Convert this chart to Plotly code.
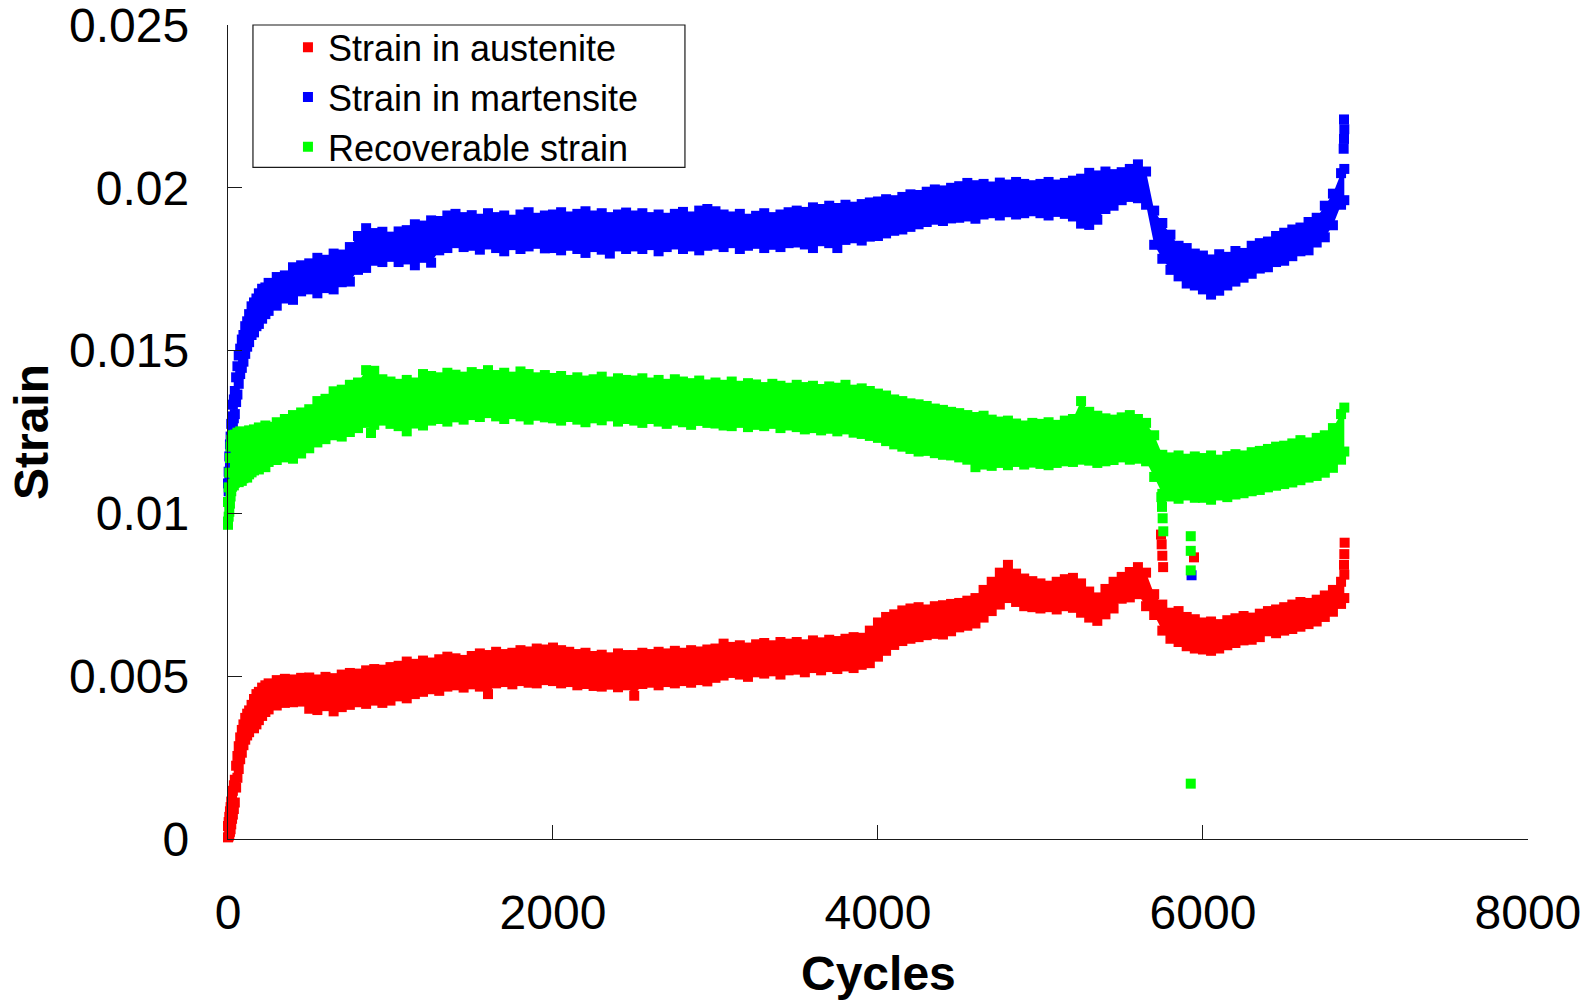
import plotly.graph_objects as go

# Sampled cycle numbers (denser logging during the first cycles)
cycles = [
    0, 4, 8, 12, 16, 20, 25, 30, 36, 42,
    50, 58, 66, 75, 85, 95, 106, 118, 130, 145,
    160, 175, 190, 210, 230, 250, 300, 350, 400, 450,
    500, 550, 600, 650, 700, 750, 800, 850, 900, 950,
    1000, 1050, 1100, 1150, 1200, 1250, 1300, 1350, 1400, 1450,
    1500, 1550, 1600, 1650, 1700, 1750, 1800, 1850, 1900, 1950,
    2000, 2050, 2100, 2150, 2200, 2250, 2300, 2350, 2400, 2450,
    2500, 2550, 2600, 2650, 2700, 2750, 2800, 2850, 2900, 2950,
    3000, 3050, 3100, 3150, 3200, 3250, 3300, 3350, 3400, 3450,
    3500, 3550, 3600, 3650, 3700, 3750, 3800, 3850, 3900, 3950,
    4000, 4050, 4100, 4150, 4200, 4250, 4300, 4350, 4400, 4450,
    4500, 4550, 4600, 4650, 4700, 4750, 4800, 4850, 4900, 4950,
    5000, 5050, 5100, 5150, 5200, 5250, 5300, 5350, 5400, 5450,
    5500, 5550, 5600, 5650, 5700, 5750, 5800, 5850, 5900, 5950,
    6000, 6050, 6100, 6150, 6200, 6250, 6300, 6350, 6400, 6450,
    6500, 6550, 6600, 6650, 6700, 6750, 6800, 6850, 6870,
]

# Strain in austenite: upper / lower readings of the scatter band
austenite_hi = [
    0.00040, 0.00052, 0.00068, 0.00085, 0.00098, 0.00115, 0.00135, 0.00148, 0.00165, 0.00182,
    0.00225, 0.00255, 0.00285, 0.00312, 0.00335, 0.00352, 0.00372, 0.00385, 0.00395, 0.00412,
    0.00430, 0.00445, 0.00452, 0.00465, 0.00472, 0.00478, 0.00488, 0.00492, 0.00490, 0.00495,
    0.00496, 0.00490, 0.00498, 0.00494, 0.00505, 0.00510, 0.00508, 0.00518, 0.00522, 0.00520,
    0.00528, 0.00532, 0.00545, 0.00538, 0.00548, 0.00542, 0.00552, 0.00560, 0.00555, 0.00550,
    0.00562, 0.00570, 0.00565, 0.00575, 0.00568, 0.00572, 0.00580, 0.00576, 0.00585, 0.00582,
    0.00588, 0.00580, 0.00575, 0.00568, 0.00572, 0.00562, 0.00566, 0.00558, 0.00570, 0.00565,
    0.00565, 0.00572, 0.00568, 0.00575, 0.00570, 0.00578, 0.00572, 0.00580, 0.00576, 0.00582,
    0.00585, 0.00600, 0.00590, 0.00595, 0.00588, 0.00598, 0.00602, 0.00595, 0.00605, 0.00600,
    0.00605, 0.00598, 0.00610, 0.00604, 0.00612, 0.00608, 0.00615, 0.00620, 0.00618, 0.00640,
    0.00665, 0.00682, 0.00690, 0.00702, 0.00708, 0.00712, 0.00705, 0.00715, 0.00718, 0.00722,
    0.00725, 0.00732, 0.00740, 0.00765, 0.00790, 0.00818, 0.00842, 0.00815, 0.00800, 0.00792,
    0.00785, 0.00778, 0.00790, 0.00798, 0.00802, 0.00785, 0.00760, 0.00742, 0.00768, 0.00790,
    0.00805, 0.00820, 0.00835, 0.00818, 0.00752, 0.00720, 0.00695, 0.00700, 0.00682, 0.00675,
    0.00665, 0.00668, 0.00660, 0.00672, 0.00678, 0.00685, 0.00680, 0.00692, 0.00700, 0.00705,
    0.00712, 0.00720, 0.00728, 0.00725, 0.00735, 0.00748, 0.00765, 0.00790, 0.00812,
]
austenite_lo = [
    0.00005, 0.00008, 0.00012, 0.00022, 0.00030, 0.00045, 0.00062, 0.00075, 0.00092, 0.00112,
    0.00158, 0.00188, 0.00215, 0.00245, 0.00265, 0.00288, 0.00305, 0.00318, 0.00328, 0.00345,
    0.00340, 0.00352, 0.00365, 0.00378, 0.00390, 0.00398, 0.00410, 0.00418, 0.00420, 0.00422,
    0.00400, 0.00396, 0.00408, 0.00392, 0.00405, 0.00412, 0.00420, 0.00415, 0.00425, 0.00418,
    0.00425, 0.00438, 0.00432, 0.00445, 0.00452, 0.00460, 0.00455, 0.00468, 0.00472, 0.00465,
    0.00475, 0.00468, 0.00445, 0.00478, 0.00482, 0.00475, 0.00485, 0.00480, 0.00478, 0.00488,
    0.00485, 0.00478, 0.00482, 0.00472, 0.00476, 0.00470, 0.00468, 0.00474, 0.00466, 0.00472,
    0.00440, 0.00476, 0.00480, 0.00472, 0.00482, 0.00478, 0.00485, 0.00480, 0.00488, 0.00484,
    0.00495, 0.00502, 0.00510, 0.00505, 0.00498, 0.00512, 0.00508, 0.00515, 0.00505, 0.00518,
    0.00520, 0.00512, 0.00525, 0.00518, 0.00528, 0.00522, 0.00530, 0.00525, 0.00535, 0.00540,
    0.00560, 0.00578, 0.00596, 0.00608, 0.00615, 0.00620, 0.00626, 0.00630, 0.00628, 0.00638,
    0.00650, 0.00655, 0.00662, 0.00680, 0.00700, 0.00720, 0.00740, 0.00728, 0.00715, 0.00712,
    0.00708, 0.00712, 0.00705, 0.00715, 0.00710, 0.00695, 0.00680, 0.00670, 0.00690, 0.00708,
    0.00738, 0.00742, 0.00752, 0.00715, 0.00688, 0.00640, 0.00615, 0.00605, 0.00592, 0.00585,
    0.00582, 0.00578, 0.00585, 0.00595, 0.00602, 0.00610, 0.00612, 0.00620, 0.00638, 0.00632,
    0.00640, 0.00645, 0.00652, 0.00660, 0.00668, 0.00682, 0.00698, 0.00722, 0.00740,
]

# Strain in martensite
martensite_hi = [
    0.01092, 0.01128, 0.01175, 0.01212, 0.01236, 0.01275, 0.01298, 0.01334, 0.01350, 0.01376,
    0.01418, 0.01452, 0.01485, 0.01506, 0.01534, 0.01548, 0.01575, 0.01590, 0.01612, 0.01636,
    0.01648, 0.01660, 0.01676, 0.01690, 0.01694, 0.01708, 0.01726, 0.01731, 0.01756, 0.01762,
    0.01768, 0.01785, 0.01779, 0.01798, 0.01795, 0.01818, 0.01852, 0.01876, 0.01861, 0.01865,
    0.01850, 0.01866, 0.01870, 0.01888, 0.01884, 0.01900, 0.01898, 0.01915, 0.01920, 0.01910,
    0.01916, 0.01905, 0.01922, 0.01910, 0.01915, 0.01902, 0.01918, 0.01925, 0.01908, 0.01915,
    0.01918, 0.01925, 0.01912, 0.01920, 0.01928, 0.01915, 0.01922, 0.01910, 0.01918, 0.01924,
    0.01915, 0.01922, 0.01910, 0.01918, 0.01908, 0.01920, 0.01926, 0.01912, 0.01930, 0.01935,
    0.01928, 0.01918, 0.01912, 0.01920, 0.01905, 0.01914, 0.01922, 0.01910, 0.01918, 0.01925,
    0.01930, 0.01926, 0.01940, 0.01935, 0.01945, 0.01938, 0.01948, 0.01942, 0.01950, 0.01955,
    0.01958, 0.01965, 0.01962, 0.01972, 0.01980, 0.01978, 0.01988, 0.01995, 0.01992, 0.02000,
    0.02005, 0.02015, 0.02008, 0.02012, 0.02004, 0.02016, 0.02010, 0.02018, 0.02012, 0.02008,
    0.02012, 0.02018, 0.02010, 0.02015, 0.02022, 0.02028, 0.02046, 0.02038, 0.02050, 0.02042,
    0.02048, 0.02058, 0.02072, 0.02050, 0.01930, 0.01892, 0.01856, 0.01822, 0.01815, 0.01798,
    0.01792, 0.01780, 0.01796, 0.01788, 0.01806, 0.01800, 0.01822, 0.01830, 0.01835, 0.01852,
    0.01862, 0.01872, 0.01878, 0.01895, 0.01908, 0.01945, 0.01982, 0.02045, 0.02058,
]
martensite_lo = [
    0.01035, 0.01068, 0.01110, 0.01146, 0.01182, 0.01208, 0.01238, 0.01266, 0.01292, 0.01305,
    0.01342, 0.01365, 0.01398, 0.01428, 0.01447, 0.01466, 0.01490, 0.01512, 0.01526, 0.01548,
    0.01556, 0.01575, 0.01582, 0.01598, 0.01612, 0.01622, 0.01638, 0.01660, 0.01656, 0.01682,
    0.01688, 0.01676, 0.01692, 0.01688, 0.01710, 0.01712, 0.01748, 0.01754, 0.01776, 0.01772,
    0.01788, 0.01772, 0.01780, 0.01762, 0.01785, 0.01770, 0.01808, 0.01815, 0.01830, 0.01818,
    0.01822, 0.01810, 0.01826, 0.01815, 0.01805, 0.01824, 0.01812, 0.01820, 0.01828, 0.01814,
    0.01815, 0.01808, 0.01822, 0.01812, 0.01800, 0.01818, 0.01810, 0.01798, 0.01820, 0.01812,
    0.01820, 0.01812, 0.01824, 0.01805, 0.01818, 0.01826, 0.01812, 0.01820, 0.01808, 0.01822,
    0.01826, 0.01818, 0.01830, 0.01812, 0.01822, 0.01828, 0.01815, 0.01825, 0.01818, 0.01830,
    0.01832, 0.01826, 0.01815, 0.01836, 0.01830, 0.01815, 0.01840, 0.01845, 0.01838, 0.01850,
    0.01852, 0.01860, 0.01868, 0.01872, 0.01880, 0.01888, 0.01895, 0.01902, 0.01898, 0.01906,
    0.01908, 0.01912, 0.01905, 0.01918, 0.01922, 0.01915, 0.01925, 0.01918, 0.01922, 0.01928,
    0.01922, 0.01915, 0.01926, 0.01920, 0.01912, 0.01890, 0.01886, 0.01902, 0.01935, 0.01945,
    0.01962, 0.01972, 0.01968, 0.01948, 0.01825, 0.01782, 0.01748, 0.01728, 0.01706, 0.01700,
    0.01688, 0.01672, 0.01684, 0.01700, 0.01712, 0.01724, 0.01736, 0.01752, 0.01756, 0.01772,
    0.01776, 0.01790, 0.01805, 0.01808, 0.01832, 0.01848, 0.01885, 0.01948, 0.01962,
]

# Recoverable strain
recoverable_hi = [
    0.01035, 0.01080, 0.01125, 0.01170, 0.01205, 0.01226, 0.01240, 0.01236, 0.01228, 0.01242,
    0.01235, 0.01248, 0.01240, 0.01252, 0.01238, 0.01246, 0.01250, 0.01242, 0.01255, 0.01248,
    0.01258, 0.01250, 0.01264, 0.01258, 0.01270, 0.01266, 0.01280, 0.01290, 0.01302, 0.01310,
    0.01320, 0.01345, 0.01352, 0.01375, 0.01380, 0.01395, 0.01402, 0.01440, 0.01438, 0.01412,
    0.01405, 0.01398, 0.01410, 0.01402, 0.01428, 0.01422, 0.01418, 0.01432, 0.01426, 0.01420,
    0.01434, 0.01428, 0.01440, 0.01425, 0.01432, 0.01420, 0.01436, 0.01428, 0.01418, 0.01425,
    0.01416, 0.01422, 0.01410, 0.01418, 0.01408, 0.01412, 0.01420, 0.01405, 0.01415, 0.01410,
    0.01408, 0.01415, 0.01402, 0.01410, 0.01398, 0.01412, 0.01405, 0.01400, 0.01408, 0.01396,
    0.01402, 0.01395, 0.01405, 0.01392, 0.01400, 0.01396, 0.01388, 0.01398, 0.01392, 0.01386,
    0.01395, 0.01388, 0.01392, 0.01382, 0.01390, 0.01386, 0.01395, 0.01380, 0.01384, 0.01376,
    0.01368, 0.01362, 0.01350, 0.01345, 0.01338, 0.01335, 0.01330, 0.01322, 0.01318, 0.01312,
    0.01308, 0.01302, 0.01296, 0.01300, 0.01288, 0.01282, 0.01285, 0.01276, 0.01270, 0.01278,
    0.01275, 0.01280, 0.01272, 0.01285, 0.01290, 0.01345, 0.01312, 0.01300, 0.01292, 0.01288,
    0.01295, 0.01302, 0.01290, 0.01278, 0.01240, 0.01180, 0.01172, 0.01178, 0.01168, 0.01175,
    0.01170, 0.01178, 0.01165, 0.01176, 0.01182, 0.01178, 0.01188, 0.01192, 0.01198, 0.01205,
    0.01208, 0.01215, 0.01225, 0.01218, 0.01232, 0.01240, 0.01262, 0.01305, 0.01325,
]
recoverable_lo = [
    0.00975, 0.00990, 0.01005, 0.01030, 0.01052, 0.01068, 0.01082, 0.01090, 0.01086, 0.01094,
    0.01098, 0.01105, 0.01096, 0.01112, 0.01100, 0.01108, 0.01118, 0.01110, 0.01120, 0.01126,
    0.01132, 0.01140, 0.01135, 0.01148, 0.01142, 0.01158, 0.01164, 0.01172, 0.01168, 0.01184,
    0.01200, 0.01218, 0.01228, 0.01240, 0.01236, 0.01250, 0.01262, 0.01278, 0.01272, 0.01285,
    0.01275, 0.01268, 0.01252, 0.01276, 0.01270, 0.01285, 0.01290, 0.01282, 0.01295, 0.01288,
    0.01302, 0.01296, 0.01308, 0.01298, 0.01290, 0.01305, 0.01298, 0.01288, 0.01300, 0.01295,
    0.01292, 0.01285, 0.01296, 0.01288, 0.01280, 0.01292, 0.01286, 0.01298, 0.01282, 0.01290,
    0.01285, 0.01278, 0.01290, 0.01282, 0.01275, 0.01285, 0.01280, 0.01272, 0.01284, 0.01278,
    0.01276, 0.01270, 0.01268, 0.01278, 0.01265, 0.01272, 0.01268, 0.01275, 0.01262, 0.01270,
    0.01265, 0.01258, 0.01262, 0.01255, 0.01260, 0.01252, 0.01258, 0.01248, 0.01244, 0.01238,
    0.01232, 0.01222, 0.01212, 0.01205, 0.01198, 0.01190, 0.01192, 0.01185, 0.01180, 0.01178,
    0.01172, 0.01165, 0.01142, 0.01150, 0.01146, 0.01155, 0.01148, 0.01158, 0.01150, 0.01156,
    0.01152, 0.01148, 0.01155, 0.01160, 0.01158, 0.01165, 0.01162, 0.01155, 0.01160, 0.01164,
    0.01172, 0.01165, 0.01168, 0.01160, 0.01112, 0.01060, 0.01052, 0.01045, 0.01055, 0.01048,
    0.01048, 0.01042, 0.01055, 0.01050, 0.01058, 0.01062, 0.01068, 0.01072, 0.01080, 0.01085,
    0.01090, 0.01095, 0.01102, 0.01110, 0.01115, 0.01125, 0.01140, 0.01165, 0.01190,
]

# Isolated readings outside the main bands
austenite_extra_cycles = [5742, 5746, 5750, 5755, 5945, 6868, 6870, 6872]
austenite_extra = [0.00935, 0.00905, 0.00870, 0.00835, 0.00865, 0.00842, 0.00875, 0.00910]
martensite_extra_cycles = [5930, 6866, 6868, 6870, 6868]
martensite_extra = [0.00810, 0.02120, 0.02150, 0.02180, 0.02210]
recoverable_extra_cycles = [0, 880, 5744, 5748, 5752, 5756, 5925, 5925, 5925, 5925]
recoverable_extra = [0.00965, 0.01247, 0.01050, 0.01020, 0.00985, 0.00945, 0.00930, 0.00885, 0.00825, 0.00170]

x_ticks = [0, 2000, 4000, 6000, 8000]
y_ticks = [0, 0.005, 0.01, 0.015, 0.02, 0.025]
y_tick_text = ["0", "0.005", "0.01", "0.015", "0.02", "0.025"]

series = [
    ("Strain in austenite", "#FF0000", austenite_lo, austenite_hi,
     austenite_extra_cycles, austenite_extra),
    ("Strain in martensite", "#0000FF", martensite_lo, martensite_hi,
     martensite_extra_cycles, martensite_extra),
    ("Recoverable strain", "#00FF00", recoverable_lo, recoverable_hi,
     recoverable_extra_cycles, recoverable_extra),
]

FONT = "Liberation Sans, Arial, sans-serif"
MARK = 10
AXIS_COLOR = "#1a1a1a"

fig = go.Figure()

# Each band: lower readings first, then upper readings filled down to them
for name, color, lo, hi, _, _ in series:
    assert len(lo) == len(cycles) and len(hi) == len(cycles)
    marker = dict(symbol="square", size=MARK, color=color, line=dict(width=0))
    fig.add_trace(go.Scatter(
        x=cycles, y=lo, mode="lines+markers", name=name, legendgroup=name,
        line=dict(width=0, color=color),
        marker=marker, cliponaxis=False, hoverinfo="x+y",
    ))
    fig.add_trace(go.Scatter(
        x=cycles, y=hi, mode="lines+markers", name=name, legendgroup=name,
        showlegend=False, fill="tonexty", fillcolor=color,
        line=dict(width=0, color=color),
        marker=marker, cliponaxis=False, hoverinfo="x+y",
    ))

for name, color, _, _, xc, xv in series:
    fig.add_trace(go.Scatter(
        x=xc, y=xv, mode="markers", name=name, legendgroup=name,
        showlegend=False, cliponaxis=False,
        marker=dict(symbol="square", size=MARK, color=color, line=dict(width=0)),
    ))

axis_common = dict(
    showgrid=False, zeroline=False, showline=True,
    linecolor=AXIS_COLOR, linewidth=1.4,
    ticks="inside", ticklen=14, tickwidth=1.4, tickcolor=AXIS_COLOR,
    tickfont=dict(family=FONT, size=48, color="#000000"),
    ticklabeloverflow="allow",
)

fig.update_xaxes(range=[0, 8000.5], tickvals=x_ticks, ticklabelstandoff=31, **axis_common)
fig.update_yaxes(range=[0, 0.0250005], tickvals=y_ticks, ticktext=y_tick_text,
                 ticklabelstandoff=28, **axis_common)

# Legend frame (paper coordinates of the box around the entries)
legend_box = dict(x0=0.0192, x1=0.3515, y0=0.825, y1=1.0)

fig.update_layout(
    width=1595, height=1001,
    margin=dict(l=228, r=67, t=25, b=162, autoexpand=False),
    paper_bgcolor="#FFFFFF", plot_bgcolor="#FFFFFF",
    font=dict(family=FONT, color="#000000"),
    showlegend=True,
    legend=dict(
        x=0.0192, y=1.0095, xanchor="left", yanchor="top",
        bgcolor="rgba(0,0,0,0)", borderwidth=0,
        font=dict(family=FONT, size=36, color="#000000"),
        tracegroupgap=0, itemsizing="trace", indentation=35,
    ),
    shapes=[
        dict(type="rect", xref="paper", yref="paper",
             line=dict(color=AXIS_COLOR, width=1.2),
             fillcolor="rgba(0,0,0,0)", layer="above", **legend_box),
    ],
    annotations=[
        dict(text="<b>Strain</b>", xref="paper", yref="paper",
             x=-0.1515, y=0.5, textangle=-90, showarrow=False,
             xanchor="center", yanchor="middle",
             font=dict(family=FONT, size=48, color="#000000")),
        dict(text="<b>Cycles</b>", xref="paper", yref="paper",
             x=0.5, y=-0.165, showarrow=False,
             xanchor="center", yanchor="middle",
             font=dict(family=FONT, size=48, color="#000000")),
    ],
)

fig.write_html("out.html")
